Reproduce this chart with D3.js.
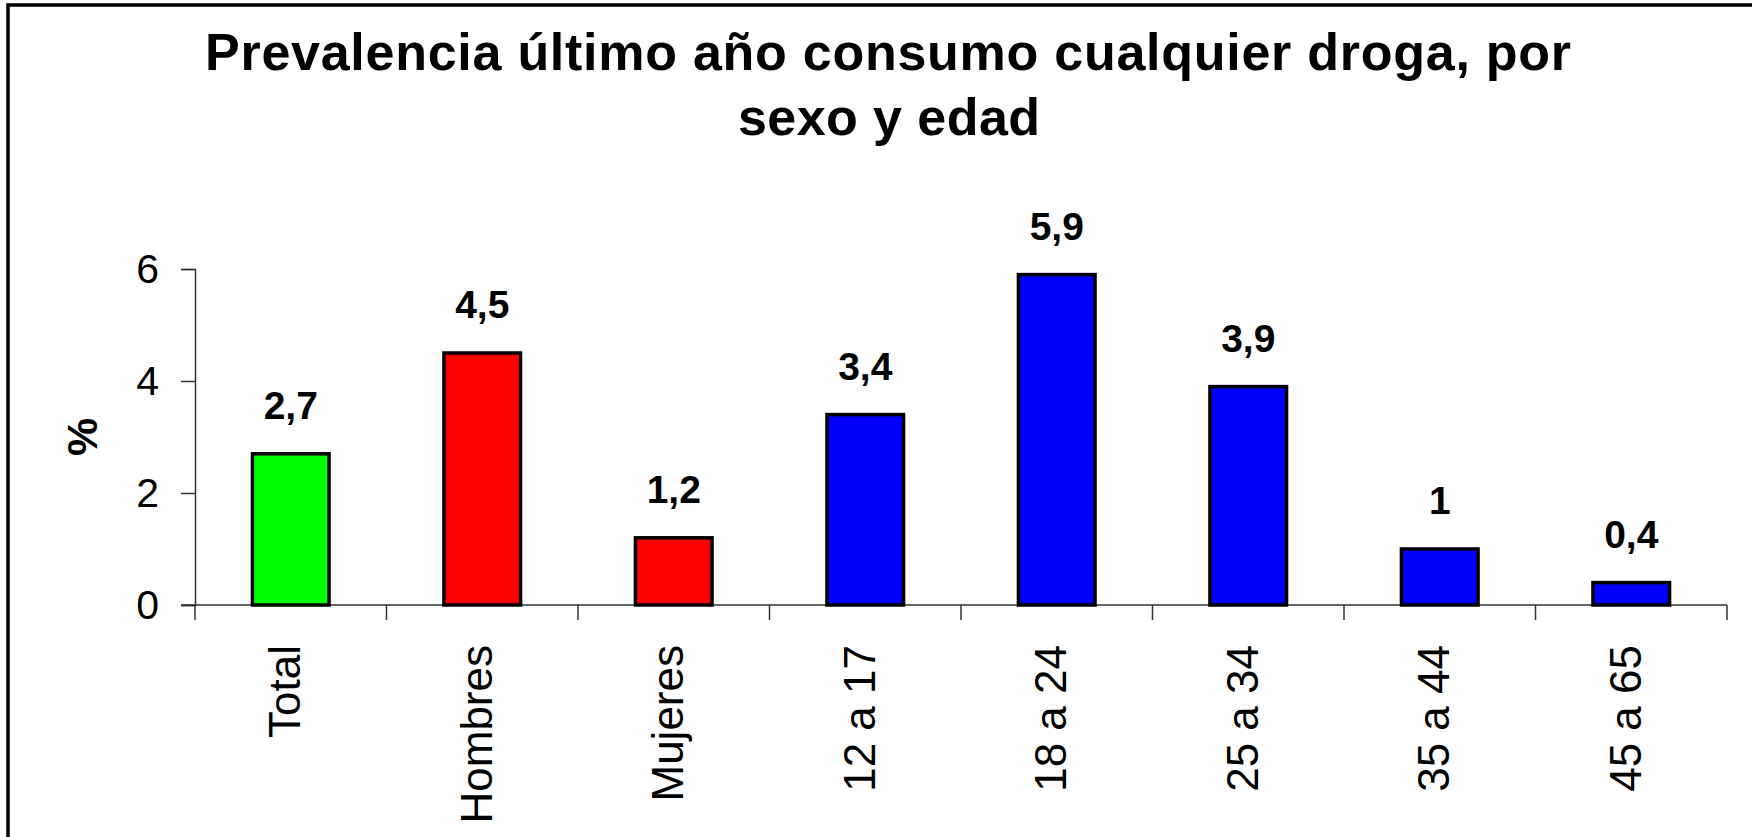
<!DOCTYPE html>
<html>
<head>
<meta charset="utf-8">
<script src="https://cdn.jsdelivr.net/npm/d3@7"></script>
<style>
  html, body { margin: 0; padding: 0; background: #fff; overflow: hidden; }
  svg { display: block; font-family: "Liberation Sans", Arial, sans-serif; }
</style>
</head>
<body>
<svg id="chart" width="1752" height="837"></svg>
<script>
const categories = ["Total", "Hombres", "Mujeres", "12 a 17", "18 a 24", "25 a 34", "35 a 44", "45 a 65"];
const values = [2.7, 4.5, 1.2, 3.4, 5.9, 3.9, 1, 0.4];
const barColors = ["#00ff00", "#ff0000", "#ff0000", "#0000ff", "#0000ff", "#0000ff", "#0000ff", "#0000ff"];
const yTicks = [0, 2, 4, 6];
const titleLines = ["Prevalencia último año consumo cualquier droga, por", "sexo y edad"];
const yLabel = "%";

(function () {
const svg = d3.select("#chart");
const W = 1752, H = 837;
const pLeft = 195, pRight = 1727, pTop = 269, pBottom = 605;

// frame
svg.append("rect")
  .attr("x", 8).attr("y", 5)
  .attr("width", W + 20).attr("height", H + 20)
  .attr("fill", "#fff").attr("stroke", "#000").attr("stroke-width", 3.5);

// title
const title = svg.append("g");
title.append("text")
  .attr("x", 888).attr("y", 70)
  .attr("text-anchor", "middle")
  .attr("font-size", 52).attr("font-weight", "bold")
  .attr("textLength", 1366).attr("lengthAdjust", "spacing")
  .text(titleLines[0]);
title.append("text")
  .attr("x", 889).attr("y", 135)
  .attr("text-anchor", "middle")
  .attr("font-size", 52).attr("font-weight", "bold")
  .attr("textLength", 302).attr("lengthAdjust", "spacing")
  .text(titleLines[1]);

const x = d3.scaleBand().domain(categories).range([pLeft, pRight]).paddingInner(0).paddingOuter(0);
const y = d3.scaleLinear().domain([0, 6]).range([pBottom, pTop]);

// y axis
const yAxis = svg.append("g").attr("transform", `translate(${pLeft},0)`)
  .call(d3.axisLeft(y).tickValues(yTicks).tickSize(14).tickPadding(22).tickFormat(d => d));
yAxis.select(".domain").attr("stroke", "#333").attr("stroke-width", 1.5);
yAxis.selectAll(".tick line").attr("stroke", "#333").attr("stroke-width", 1.5);
yAxis.selectAll(".tick text").attr("font-size", 41).attr("fill", "#000")
  .attr("font-family", "Liberation Sans, Arial, sans-serif");

// x axis line with boundary ticks
const boundaries = categories.map(c => x(c)).concat([pRight]);
svg.append("line")
  .attr("x1", pLeft - 14).attr("x2", pRight)
  .attr("y1", y(0)).attr("y2", y(0))
  .attr("stroke", "#333").attr("stroke-width", 1.5);
svg.append("g").selectAll("line").data(boundaries).join("line")
  .attr("x1", d => d).attr("x2", d => d)
  .attr("y1", y(0)).attr("y2", y(0) + 15)
  .attr("stroke", "#333").attr("stroke-width", 1.5);

// bars
const bw = x.bandwidth() * 0.4;
svg.append("g").selectAll("rect").data(values).join("rect")
  .attr("x", (d, i) => x(categories[i]) + x.bandwidth() / 2 - bw / 2)
  .attr("y", d => y(d))
  .attr("width", bw)
  .attr("height", d => y(0) - y(d))
  .attr("fill", (d, i) => barColors[i])
  .attr("stroke", "#000").attr("stroke-width", 3.5);

// value labels
svg.append("g").selectAll("text").data(values).join("text")
  .attr("x", (d, i) => x(categories[i]) + x.bandwidth() / 2)
  .attr("y", d => y(d) - 35)
  .attr("text-anchor", "middle")
  .attr("font-size", 39).attr("font-weight", "bold")
  .text(d => String(d).replace(".", ","));

// category labels (rotated)
svg.append("g").selectAll("text").data(categories).join("text")
  .attr("transform", c => `translate(${x(c) + x.bandwidth() / 2 - 6},645) rotate(-90)`)
  .attr("text-anchor", "end")
  .attr("dy", "0.35em")
  .attr("font-size", 44)
  .text(c => c);

// y label
svg.append("text")
  .attr("transform", `translate(82,${(pTop + pBottom) / 2}) rotate(-90)`)
  .attr("text-anchor", "middle")
  .attr("dy", "0.35em")
  .attr("font-size", 43).attr("font-weight", "bold")
  .text(yLabel);
})();
</script>
</body>
</html>
